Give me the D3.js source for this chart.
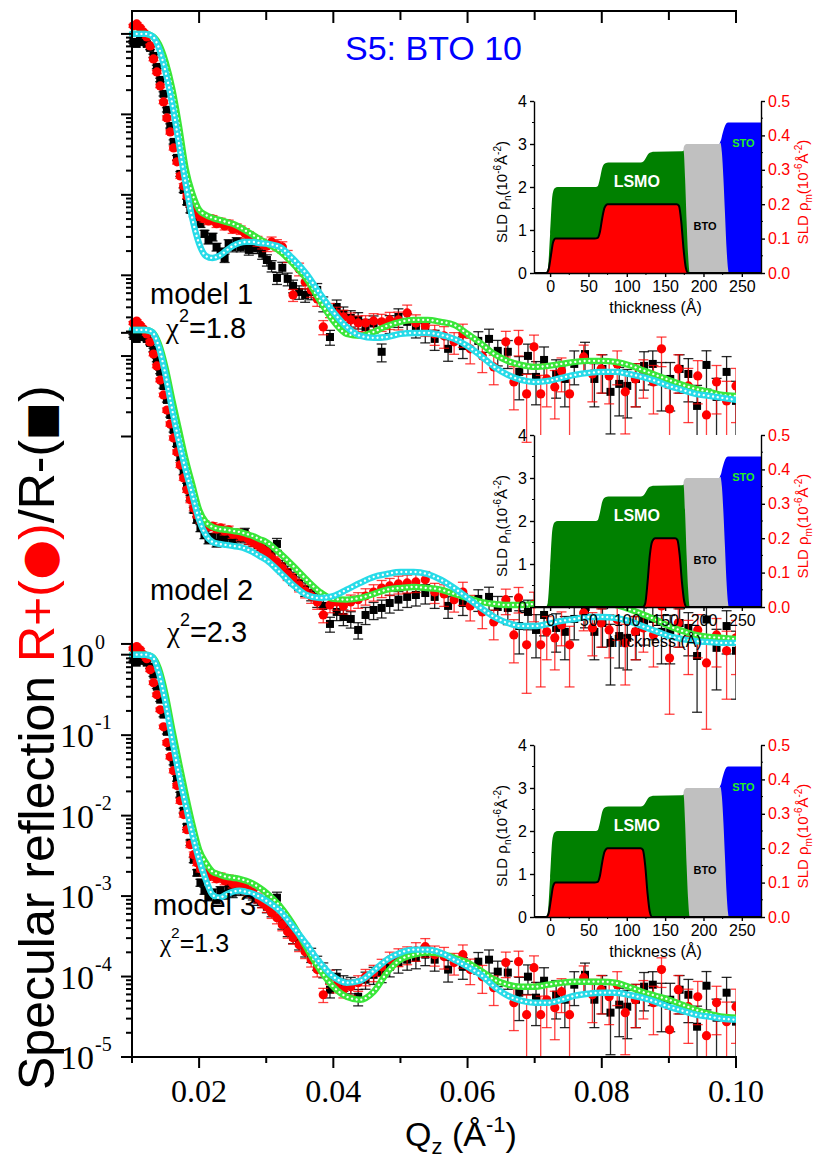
<!DOCTYPE html>
<html>
<head>
<meta charset="utf-8">
<title>S5: BTO 10</title>
<script src="https://cdn.jsdelivr.net/npm/d3@7/dist/d3.min.js"></script>
<style>
  body { margin: 0; background: #ffffff; }
  svg { display: block; }
</style>
</head>
<body>
<div id="chart"></div>
<script>
// measured Q values
var qShared = [
    0.0102, 0.0107, 0.0112, 0.0117, 0.0122, 0.0127, 0.0132, 0.0137, 0.0142, 0.0147,
    0.0152, 0.0157, 0.0162, 0.0167, 0.0172, 0.0177, 0.0182, 0.0187, 0.0192, 0.0197,
    0.0202, 0.0208, 0.0214, 0.0220, 0.0226, 0.0232, 0.0238, 0.0244, 0.0250, 0.0256,
    0.0262, 0.0268, 0.0274, 0.0280, 0.0287, 0.0294,
    0.0301, 0.0308, 0.0316, 0.0324, 0.0332, 0.0340, 0.0349, 0.0358, 0.0367, 0.0376, 0.0385, 0.0395,
    0.0405, 0.0415, 0.0426, 0.0437, 0.0448, 0.0460, 0.0472, 0.0484, 0.0497, 0.0510, 0.0523, 0.0537
];
var qPlus = qShared.concat( [
    0.0551, 0.0565, 0.0580, 0.0593, 0.0604, 0.0622, 0.0639, 0.0657, 0.0669, 0.0676,
    0.0688, 0.0699, 0.0709, 0.0718, 0.0730, 0.0740, 0.0752, 0.0773, 0.0786, 0.0799,
    0.0811, 0.0823, 0.0835, 0.0850, 0.0862, 0.0877, 0.0889, 0.0901, 0.0914, 0.0929,
    0.0943, 0.0956, 0.0971, 0.0986, 0.1000
] );
var qMinus = qShared.concat( [
    0.0551, 0.0571, 0.0593, 0.0616, 0.0632, 0.0645, 0.0660, 0.0677, 0.0690, 0.0702,
    0.0714, 0.0732, 0.0745, 0.0759, 0.0775, 0.0789, 0.0801, 0.0813, 0.0826, 0.0838,
    0.0851, 0.0863, 0.0876, 0.0889, 0.0902, 0.0916, 0.0929, 0.0942, 0.0956, 0.0971,
    0.0986, 0.1000
] );

// high-Q part of R+ and R- as read in panels 1 and 3
var rPlusHighOuter = [
    1.87e-4, 1.77e-4, 1.49e-4, 1.87e-4, 1.22e-4, 9.96e-5, 7.27e-5, 1.49e-4, 4.73e-5, 1.53e-4,
    3.36e-5, 1.29e-4, 3.36e-5, 5.15e-5, 4.10e-5, 6.48e-5, 3.36e-5, 9.68e-5, 5.94e-5, 6.86e-5,
    5.61e-5, 7.92e-5, 3.56e-5, 5.15e-5, 5.94e-5, 4.73e-5, 1.22e-4, 2.18e-5, 6.86e-5, 4.22e-5,
    5.61e-5, 1.84e-5, 4.73e-5, 2.75e-5, 4.22e-5
];
var rMinusHighOuter = [
    1.62e-4, 1.22e-4, 1.32e-4, 1.53e-4, 1.62e-4, 1.15e-4, 1.12e-4, 6.30e-5, 9.96e-5, 5.46e-5,
    8.87e-5, 5.94e-5, 5.15e-5, 7.92e-5, 1.05e-4, 5.15e-5, 6.86e-5, 3.56e-5, 4.47e-5, 4.22e-5,
    5.15e-5, 7.48e-5, 7.92e-5, 5.15e-5, 5.15e-5, 6.86e-5, 5.94e-5, 2.38e-5, 7.69e-5, 3.08e-5,
    6.30e-5, 2.75e-5
];

// panel 1 (model 1)
var rPlusOne = [
    1.26, 1.33, 1.19, 1.06, 0.918, 0.709, 0.489, 0.337, 0.226, 0.143,
    0.0904, 0.0605, 0.0383, 0.0257, 0.0172, 0.0129, 0.00970, 0.00775, 0.00650, 0.00579,
    0.00532, 0.00502, 0.00474, 0.00502, 0.00437, 0.00461, 0.00411, 0.00437, 0.00377, 0.00388,
    0.00366, 0.00336, 0.00309, 0.00283, 0.00267, 0.00247,
    0.00232, 0.00260, 0.00239, 0.00225, 0.00174, 0.000570, 0.00120, 0.000828, 0.000658, 0.000508, 0.000228, 0.000372,
    0.000331, 0.000304, 0.000279, 0.000256, 0.000256, 0.000271, 0.000264, 0.000279, 0.000279, 0.000341, 0.000256, 0.000235
].concat( rPlusHighOuter );
var rMinusOne = [
    0.796, 0.751, 0.818, 0.796, 0.751, 0.670, 0.533, 0.389, 0.268, 0.180,
    0.114, 0.0719, 0.0455, 0.0288, 0.0182, 0.0115, 0.00817, 0.00650, 0.00579, 0.00532,
    0.00437, 0.00329, 0.00275, 0.00300, 0.00225, 0.00195, 0.00164, 0.00247, 0.00225, 0.00260,
    0.00225, 0.00247, 0.00207, 0.00219, 0.00219, 0.00186,
    0.00155, 0.00131, 0.000927, 0.00124, 0.000902, 0.000738, 0.000621, 0.000570, 0.000621, 0.000658, 0.000445, 0.000171,
    0.000404, 0.000331, 0.000295, 0.000279, 0.000228, 0.000252, 0.000112, 0.000252, 0.000304, 0.000264, 0.000228, 0.000198
].concat( rMinusHighOuter );

// panel 2 (model 2)
var rPlusTwo = [
    1.22, 1.29, 1.15, 1.03, 0.892, 0.709, 0.503, 0.357, 0.239, 0.156,
    0.101, 0.0679, 0.0455, 0.0305, 0.0210, 0.0145, 0.0103, 0.00775, 0.00614, 0.00502,
    0.00437, 0.00388, 0.00356, 0.00366, 0.00336, 0.00346, 0.00318, 0.00329, 0.00292, 0.00300,
    0.00275, 0.00275, 0.00247, 0.00232, 0.00213, 0.00190,
    0.00174, 0.00147, 0.00131, 0.00110, 0.000927, 0.000804, 0.000677, 0.000570, 0.000494, 0.000416, 0.000287, 0.000382,
    0.000416, 0.000372, 0.000416, 0.000445, 0.000494, 0.000554, 0.000621, 0.000658, 0.000697, 0.000717, 0.000738, 0.000789,
    0.000554, 0.000524, 0.000445, 0.000554, 0.000372, 0.000313, 0.000235, 0.000445, 0.000162, 0.000467,
    0.000122, 0.000393, 0.000122, 0.000177, 0.000149, 0.000216, 0.000122, 0.000304, 0.000198, 0.000228,
    0.000187, 0.000252, 0.000129, 0.000177, 0.000198, 0.000162, 0.000372, 8.38e-5, 0.000228, 0.000149,
    0.000187, 7.27e-5, 0.000162, 1.03e-4, 0.000149
];
var rMinusTwo = [
    0.842, 0.773, 0.867, 0.818, 0.773, 0.689, 0.565, 0.424, 0.301, 0.201,
    0.135, 0.0878, 0.0572, 0.0383, 0.0257, 0.0172, 0.0115, 0.00817, 0.00579, 0.00437,
    0.00346, 0.00283, 0.00247, 0.00267, 0.00225, 0.00267, 0.00247, 0.00283, 0.00252, 0.00292,
    0.00260, 0.00300, 0.00252, 0.00239, 0.00213, 0.00201,
    0.00179, 0.00160, 0.00219, 0.00117, 0.000982, 0.000828, 0.000717, 0.000604, 0.000538, 0.000445, 0.000372, 0.000222,
    0.000313, 0.000271, 0.000256, 0.000187, 0.000287, 0.000331, 0.000351, 0.000404, 0.000445, 0.000481, 0.000508, 0.000538,
    0.000481, 0.000372, 0.000404, 0.000454, 0.000481, 0.000361, 0.000351, 0.000209, 0.000313, 0.000187,
    0.000287, 0.000198, 0.000177, 0.000256, 0.000331, 0.000177, 0.000228, 0.000129, 0.000157, 0.000149,
    0.000177, 0.000242, 0.000256, 0.000177, 0.000177, 0.000228, 0.000198, 8.87e-5, 0.000252, 1.12e-4,
    0.000209, 1.03e-4
];

// panel 3 (model 3)
var rPlusThree = [
    1.19, 1.26, 1.15, 1.00, 0.892, 0.651, 0.449, 0.318, 0.207, 0.127,
    0.0806, 0.0540, 0.0362, 0.0236, 0.0153, 0.0103, 0.00668, 0.00435, 0.00327, 0.00260,
    0.00219, 0.00195, 0.00174, 0.00185, 0.00164, 0.00174, 0.00155, 0.00164, 0.00143, 0.00147,
    0.00131, 0.00135, 0.00117, 0.00110, 0.000955, 0.000828,
    0.000738, 0.000621, 0.000538, 0.000441, 0.000361, 0.000304, 0.000249, 0.000204, 0.000162, 0.000122, 5.94e-5, 9.96e-5,
    7.92e-5, 6.86e-5, 7.48e-5, 8.38e-5, 9.96e-5, 1.12e-4, 1.32e-4, 1.62e-4, 1.77e-4, 1.87e-4, 2.09e-4, 2.35e-4
].concat( rPlusHighOuter );
var rMinusThree = [
    0.867, 0.796, 0.892, 0.842, 0.796, 0.709, 0.565, 0.400, 0.276, 0.180,
    0.110, 0.0719, 0.0455, 0.0288, 0.0182, 0.0115, 0.00728, 0.00461, 0.00283, 0.00195,
    0.00147, 0.00117, 0.000982, 0.00110, 0.000902, 0.00117, 0.00104, 0.00127, 0.00110, 0.00131,
    0.00117, 0.00138, 0.00110, 0.00104, 0.000902, 0.000851,
    0.000738, 0.000658, 0.000955, 0.000467, 0.000382, 0.000313, 0.000264, 0.000216, 1.87e-4, 1.49e-4, 1.22e-4, 6.86e-5,
    9.96e-5, 8.38e-5, 7.92e-5, 5.61e-5, 9.14e-5, 1.05e-4, 1.12e-4, 1.32e-4, 1.49e-4, 1.62e-4, 1.71e-4, 1.87e-4
].concat( rMinusHighOuter );

// relative errors dR/R
var rPlusErr = [
    0.04, 0.04, 0.04, 0.04, 0.04, 0.05, 0.05, 0.05, 0.05, 0.05,
    0.06, 0.06, 0.06, 0.06, 0.07, 0.07, 0.07, 0.08, 0.08, 0.08,
    0.09, 0.09, 0.10, 0.10, 0.10, 0.11, 0.11, 0.11, 0.12, 0.12,
    0.12, 0.13, 0.13, 0.13, 0.14, 0.14,
    0.15, 0.15, 0.16, 0.16, 0.17, 0.17, 0.18, 0.18, 0.19, 0.19, 0.20, 0.20,
    0.21, 0.21, 0.22, 0.22, 0.23, 0.23, 0.24, 0.24, 0.25, 0.25, 0.26, 0.26,
    0.28, 0.30, 0.30, 0.32, 0.35, 0.38, 0.40, 0.35, 0.55, 0.35,
    0.75, 0.40, 0.70, 0.55, 0.60, 0.45, 0.70, 0.40, 0.55, 0.50,
    0.55, 0.45, 0.70, 0.55, 0.50, 0.60, 0.40, 0.80, 0.50, 0.65,
    0.55, 0.85, 0.60, 0.75, 0.65
];
var rMinusErr = [
    0.04, 0.04, 0.04, 0.04, 0.05, 0.05, 0.05, 0.05, 0.05, 0.06,
    0.06, 0.06, 0.06, 0.07, 0.07, 0.07, 0.08, 0.08, 0.08, 0.09,
    0.10, 0.10, 0.11, 0.11, 0.11, 0.12, 0.12, 0.12, 0.13, 0.13,
    0.13, 0.14, 0.14, 0.14, 0.15, 0.15,
    0.16, 0.16, 0.17, 0.17, 0.18, 0.18, 0.19, 0.19, 0.20, 0.20, 0.21, 0.21,
    0.22, 0.22, 0.23, 0.23, 0.24, 0.24, 0.25, 0.25, 0.26, 0.26, 0.27, 0.27,
    0.28, 0.30, 0.30, 0.30, 0.32, 0.35, 0.38, 0.55, 0.40, 0.55,
    0.45, 0.50, 0.55, 0.45, 0.40, 0.55, 0.50, 0.70, 0.60, 0.60,
    0.55, 0.50, 0.45, 0.60, 0.60, 0.50, 0.55, 0.80, 0.50, 0.70,
    0.55, 0.75
];

// fitted curves
var qFit = [
    0.010, 0.011, 0.012, 0.013, 0.014, 0.015, 0.016, 0.017, 0.018, 0.019, 0.020,
    0.021, 0.022, 0.023, 0.024, 0.025, 0.026, 0.027, 0.028, 0.029, 0.030,
    0.032, 0.034, 0.036, 0.038, 0.040, 0.042, 0.044, 0.046, 0.048, 0.050,
    0.052, 0.054, 0.056, 0.058, 0.060, 0.062, 0.064, 0.066, 0.068, 0.070,
    0.072, 0.074, 0.076, 0.078, 0.080, 0.082, 0.084, 0.086, 0.088, 0.090,
    0.092, 0.094, 0.096, 0.098, 0.100
];
var fitOnePlus = [
    1, 1, 1, 0.944, 0.751, 0.449, 0.207, 0.0719, 0.0210, 0.0103, 0.00650,
    0.00563, 0.00517, 0.00488, 0.00461, 0.00437, 0.00399, 0.00356, 0.00318, 0.00283, 0.00252,
    0.00201, 0.00139, 0.000902, 0.000481, 0.000271, 0.000187, 0.000177, 0.000198, 0.000235, 0.000264,
    0.000279, 0.000279, 0.000264, 0.000242, 0.000187, 0.000142, 0.000105, 8.63e-5, 7.69e-5, 7.27e-5,
    7.48e-5, 7.92e-5, 8.38e-5, 8.63e-5, 8.63e-5, 8.38e-5, 7.69e-5, 6.67e-5, 5.78e-5, 5.01e-5,
    4.35e-5, 3.87e-5, 3.56e-5, 3.26e-5, 3.17e-5
];
var fitOneMinus = [
    1, 1, 1, 0.944, 0.670, 0.337, 0.135, 0.0430, 0.0137, 0.00502, 0.00247,
    0.00174, 0.00164, 0.00174, 0.00201, 0.00232, 0.00252, 0.00260, 0.00260, 0.00252, 0.00247,
    0.00225, 0.00160, 0.00104, 0.000593, 0.000351, 0.000228, 0.000177, 0.000167, 0.000171, 0.000187,
    0.000192, 0.000192, 0.000182, 0.000162, 0.000132, 9.96e-5, 7.27e-5, 5.78e-5, 5.01e-5, 4.73e-5,
    4.87e-5, 5.32e-5, 5.78e-5, 6.12e-5, 6.30e-5, 6.30e-5, 5.94e-5, 5.46e-5, 4.87e-5, 4.22e-5,
    3.76e-5, 3.36e-5, 3.17e-5, 2.99e-5, 2.83e-5
];
var fitTwoPlus = [
    1, 1, 1, 0.944, 0.670, 0.337, 0.135, 0.0572, 0.0243, 0.0118, 0.00582,
    0.00411, 0.00356, 0.00336, 0.00329, 0.00318, 0.00309, 0.00292, 0.00275, 0.00252, 0.00232,
    0.00169, 0.00117, 0.000789, 0.000554, 0.000454, 0.000445, 0.000467, 0.000524, 0.000593, 0.000621,
    0.000640, 0.000621, 0.000593, 0.000524, 0.000467, 0.000416, 0.000393, 0.000382, 0.000382, 0.000393,
    0.000404, 0.000416, 0.000416, 0.000416, 0.000404, 0.000382, 0.000341, 0.000295, 0.000252, 0.000209,
    0.000182, 0.000162, 0.000153, 0.000149, 0.000144
];
var fitTwoMinus = [
    1, 1, 1, 0.944, 0.615, 0.276, 0.101, 0.0406, 0.0182, 0.00890, 0.00437,
    0.00283, 0.00232, 0.00219, 0.00213, 0.00207, 0.00201, 0.00190, 0.00174, 0.00155, 0.00139,
    0.000982, 0.000677, 0.000508, 0.000467, 0.000494, 0.000593, 0.000717, 0.000851, 0.000927, 0.000982,
    0.000982, 0.000927, 0.000789, 0.000621, 0.000467, 0.000351, 0.000271, 0.000228, 0.000209, 0.000209,
    0.000222, 0.000242, 0.000256, 0.000271, 0.000271, 0.000264, 0.000242, 0.000209, 0.000182, 0.000157,
    0.000144, 0.000136, 0.000132, 0.000129, 0.000129
];
var fitThreePlus = [
    1, 1, 1, 0.944, 0.670, 0.318, 0.117, 0.0455, 0.0182, 0.00775, 0.00377,
    0.00260, 0.00201, 0.00186, 0.00174, 0.00169, 0.00164, 0.00155, 0.00143, 0.00127, 0.00110,
    0.000759, 0.000445, 0.000228, 1.22e-4, 7.48e-5, 5.61e-5, 5.15e-5, 6.48e-5, 1.12e-4, 1.62e-4,
    1.87e-4, 1.98e-4, 1.92e-4, 1.71e-4, 1.49e-4, 1.18e-4, 9.14e-5, 7.92e-5, 7.48e-5, 7.48e-5,
    7.92e-5, 8.38e-5, 8.63e-5, 8.63e-5, 8.63e-5, 8.38e-5, 7.48e-5, 6.48e-5, 5.78e-5, 5.15e-5,
    4.47e-5, 3.87e-5, 3.45e-5, 3.17e-5, 3.08e-5
];
var fitThreeMinus = [
    1, 1, 1, 0.944, 0.597, 0.253, 0.0878, 0.0323, 0.0137, 0.00582, 0.00283,
    0.00160, 0.00104, 0.000955, 0.00104, 0.00113, 0.00117, 0.00113, 0.00107, 0.000982, 0.000876,
    0.000658, 0.000416, 0.000252, 0.000149, 9.96e-5, 8.38e-5, 8.87e-5, 1.18e-4, 1.62e-4, 1.98e-4,
    2.16e-4, 2.16e-4, 1.98e-4, 1.62e-4, 1.32e-4, 1.05e-4, 7.48e-5, 5.78e-5, 5.01e-5, 4.73e-5,
    4.73e-5, 5.15e-5, 5.78e-5, 6.12e-5, 6.30e-5, 6.30e-5, 5.94e-5, 5.46e-5, 4.87e-5, 4.22e-5,
    3.76e-5, 3.36e-5, 3.17e-5, 2.99e-5, 2.91e-5
];

// panels
var modelNames = [ 'model 1', 'model 2', 'model 3' ];
var modelChi = [ '1.8', '2.3', '1.3' ];
var modelOffset = [ 5.19e7, 1.086e4, 1 ];

// x ticks
var xMajorTicks = [ 0.02, 0.04, 0.06, 0.08, 0.10 ];
var xMinorTicks = [ 0.01, 0.03, 0.05, 0.07, 0.09 ];

// y ticks: top major value, decades, extra minor decades, labels
var yTickGroups = [
    { top: 5.19e7, decades: 3, extra: 1, labels: false },
    { top: 5.15e3, decades: 1, extra: 0, labels: false },
    { top: 1, decades: 5, extra: 0, labels: true }
];
// long ticks where the stacked panels meet
var yJoinTicks = [ 1.0e4, 1.36 ];

// SLD profiles for the insets (thickness in A, SLD in 1e-6 A^-2)
var lsmoZ   = [ -21, -6, -3, 0, 3, 6, 10, 58, 62, 65, 68, 72, 76, 118, 122, 125, 128, 132, 136, 172, 174, 176, 178, 180, 182, 275 ];
var lsmoSld = [ 0, 0, 0.1, 0.9, 1.8, 1.97, 2.0, 2.0, 2.02, 2.2, 2.45, 2.55, 2.57, 2.57, 2.6, 2.68, 2.77, 2.81, 2.82, 2.83, 2.85, 2.2, 1.2, 0.4, 0, 0 ];
var btoZ    = [ -21, 173.5, 174, 176, 178, 220, 222, 224, 226, 228, 230, 232, 233, 275 ];
var btoSld  = [ 0, 0, 2.9, 2.98, 3.0, 3.0, 3.03, 2.8, 2.2, 1.4, 0.6, 0.1, 0, 0 ];
var stoZ    = [ -21, 220.5, 221, 223, 225, 228, 232, 275 ];
var stoSld  = [ 0, 0, 3.0, 3.1, 3.25, 3.42, 3.5, 3.5 ];

var magZ = [
    [ -21, -5, -2, 1, 4, 7, 12, 58, 62, 65, 68, 71, 75, 80, 165, 168, 171, 174, 177, 180, 275 ],
    [ -21, 121, 124, 127, 130, 133, 137, 163, 166, 169, 172, 175, 178, 275 ],
    [ -21, -5, -2, 1, 4, 7, 12, 58, 62, 65, 68, 71, 75, 80, 118, 121, 124, 127, 130, 133, 275 ]
];
var magSld = [
    [ 0, 0, 0.01, 0.05, 0.09, 0.1, 0.1, 0.1, 0.102, 0.12, 0.16, 0.19, 0.2, 0.2, 0.2, 0.195, 0.15, 0.07, 0.015, 0, 0 ],
    [ 0, 0, 0.01, 0.07, 0.15, 0.19, 0.2, 0.2, 0.195, 0.15, 0.07, 0.015, 0, 0 ],
    [ 0, 0, 0.01, 0.05, 0.09, 0.1, 0.1, 0.1, 0.102, 0.12, 0.16, 0.19, 0.2, 0.2, 0.2, 0.195, 0.15, 0.07, 0.015, 0, 0 ]
];

// namespace
var reflect = {};

reflect.sans = "'Liberation Sans', Arial, Helvetica, sans-serif";
reflect.serif = "'Liberation Serif', 'Times New Roman', serif";

// render
reflect.render = function( root ) {
    var plot = { left: 132, right: 736, top: 11, bottom: 1057 };

    var svg = d3.select( root )
                .append( 'svg' )
                .attr( 'width', 814 )
                .attr( 'height', 1157 )
                .style( 'font-family', reflect.sans );

    var x = d3.scaleLinear().domain( [ 0.01, 0.10 ] ).range( [ plot.left, plot.right ] );
    var y = d3.scaleLog().domain( [ 1e-5, 1e8 ] ).range( [ plot.bottom, plot.top ] );

    svg.append( 'defs' )
       .append( 'clipPath' )
       .attr( 'id', 'plot-clip' )
       .append( 'rect' )
       .attr( 'x', plot.left - 6 )
       .attr( 'y', plot.top )
       .attr( 'width', plot.right - plot.left + 6 )
       .attr( 'height', plot.bottom - plot.top );

    var layer = svg.append( 'g' ).attr( 'clip-path', 'url(#plot-clip)' );

    var plusData = [ rPlusOne, rPlusTwo, rPlusThree ];
    var minusData = [ rMinusOne, rMinusTwo, rMinusThree ];
    var plusFits = [ fitOnePlus, fitTwoPlus, fitThreePlus ];
    var minusFits = [ fitOneMinus, fitTwoMinus, fitThreeMinus ];

    for( var i = 0; i < modelOffset.length; i++ ) {
        reflect.drawData( layer, x, y, qMinus, minusData[ i ], rMinusErr, modelOffset[ i ], 'square', plot );
        reflect.drawData( layer, x, y, qPlus, plusData[ i ], rPlusErr, modelOffset[ i ], 'circle', plot );
    }
    for( var i = 0; i < modelOffset.length; i++ ) {
        reflect.drawFit( layer, x, y, qFit, plusFits[ i ], modelOffset[ i ], '#39e639' );
        reflect.drawFit( layer, x, y, qFit, minusFits[ i ], modelOffset[ i ], '#27dbe8' );
    }

    reflect.drawXAxis( svg, x, plot );
    reflect.drawYAxis( svg, y, plot );
    reflect.drawLabels( svg, plot );

    var insetTops = [ 101, 435, 745 ];
    for( var i = 0; i < insetTops.length; i++ ) {
        reflect.drawInset( svg, insetTops[ i ], magZ[ i ], magSld[ i ] );
    }
}

// draw data with error bars
reflect.drawData = function( layer, x, y, q, r, err, offset, shape, plot ) {
    var color = shape == 'circle' ? '#ff0000' : '#000000';
    var data = q.map( function( d, i ) {
        return { q: d, r: r[ i ] * offset, e: err[ i ] };
    });

    var g = layer.append( 'g' );
    var bars = g.selectAll( 'g.bar' )
                .data( data )
                .enter()
                .append( 'g' )
                .attr( 'stroke', color )
                .attr( 'stroke-opacity', shape == 'circle' ? 0.75 : 0.85 )
                .attr( 'stroke-width', 1.3 );

    var top = function( d ) { return y( d.r * ( 1 + d.e ) ); };
    var bottom = function( d ) {
        var low = d.r * ( 1 - d.e );
        return low > 0 ? Math.min( y( low ), plot.bottom ) : plot.bottom;
    };

    bars.append( 'line' )
        .attr( 'x1', function( d ) { return x( d.q ); } )
        .attr( 'x2', function( d ) { return x( d.q ); } )
        .attr( 'y1', top )
        .attr( 'y2', bottom );
    bars.append( 'line' )
        .attr( 'x1', function( d ) { return x( d.q ) - 5; } )
        .attr( 'x2', function( d ) { return x( d.q ) + 5; } )
        .attr( 'y1', top )
        .attr( 'y2', top );
    bars.append( 'line' )
        .attr( 'x1', function( d ) { return x( d.q ) - 5; } )
        .attr( 'x2', function( d ) { return x( d.q ) + 5; } )
        .attr( 'y1', bottom )
        .attr( 'y2', bottom );

    if( shape == 'circle' ) {
        g.selectAll( 'circle' )
         .data( data )
         .enter()
         .append( 'circle' )
         .attr( 'cx', function( d ) { return x( d.q ); } )
         .attr( 'cy', function( d ) { return y( d.r ); } )
         .attr( 'r', 4.6 )
         .attr( 'fill', color );
    }
    else {
        g.selectAll( 'rect' )
         .data( data )
         .enter()
         .append( 'rect' )
         .attr( 'x', function( d ) { return x( d.q ) - 4; } )
         .attr( 'y', function( d ) { return y( d.r ) - 4; } )
         .attr( 'width', 8 )
         .attr( 'height', 8 )
         .attr( 'fill', color );
    }
}

// draw fit as a chain of open circles
reflect.drawFit = function( layer, x, y, q, r, offset, color ) {
    var points = q.map( function( d, i ) { return [ x( d ), y( r[ i ] * offset ) ]; } );
    var line = d3.line().curve( d3.curveMonotoneX );

    layer.append( 'path' )
         .attr( 'd', line( points ) )
         .attr( 'fill', 'none' )
         .attr( 'stroke', color )
         .attr( 'stroke-width', 6.4 )
         .attr( 'stroke-linecap', 'round' );
    layer.append( 'path' )
         .attr( 'd', line( points ) )
         .attr( 'fill', 'none' )
         .attr( 'stroke', '#ffffff' )
         .attr( 'stroke-width', 2.3 )
         .attr( 'stroke-linecap', 'round' )
         .attr( 'stroke-dasharray', '0.01 4.7' );
}

// draw x axis
reflect.drawXAxis = function( svg, x, plot ) {
    var g = svg.append( 'g' ).attr( 'stroke', '#000' ).attr( 'stroke-width', 2 );

    g.append( 'line' )
     .attr( 'x1', plot.left - 1 ).attr( 'x2', plot.right + 1 )
     .attr( 'y1', plot.bottom ).attr( 'y2', plot.bottom );
    g.append( 'line' )
     .attr( 'x1', plot.left - 1 ).attr( 'x2', plot.right + 1 )
     .attr( 'y1', plot.top ).attr( 'y2', plot.top );

    xMajorTicks.concat( xMinorTicks ).forEach( function( t ) {
        var major = xMajorTicks.indexOf( t ) >= 0;
        g.append( 'line' )
         .attr( 'x1', x( t ) ).attr( 'x2', x( t ) )
         .attr( 'y1', plot.bottom ).attr( 'y2', plot.bottom + ( major ? 11 : 6 ) );
        g.append( 'line' )
         .attr( 'x1', x( t ) ).attr( 'x2', x( t ) )
         .attr( 'y1', plot.top ).attr( 'y2', plot.top + ( major ? 12 : 9 ) );
    });

    svg.append( 'g' )
       .selectAll( 'text' )
       .data( xMajorTicks )
       .enter()
       .append( 'text' )
       .attr( 'x', function( d ) { return x( d ); } )
       .attr( 'y', plot.bottom + 45 )
       .attr( 'text-anchor', 'middle' )
       .style( 'font-family', reflect.serif )
       .style( 'font-size', '32px' )
       .text( function( d ) { return d3.format( '.2f' )( d ); } );
}

// draw y axis
reflect.drawYAxis = function( svg, y, plot ) {
    var g = svg.append( 'g' ).attr( 'stroke', '#000' ).attr( 'stroke-width', 2 );

    g.append( 'line' )
     .attr( 'x1', plot.left ).attr( 'x2', plot.left )
     .attr( 'y1', plot.top - 1 ).attr( 'y2', plot.bottom + 1 );

    var labels = svg.append( 'g' ).style( 'font-family', reflect.serif );

    yTickGroups.forEach( function( group ) {
        for( var k = 0; k <= group.decades; k++ ) {
            var value = group.top / Math.pow( 10, k );
            g.append( 'line' )
             .attr( 'x1', plot.left - 11 ).attr( 'x2', plot.left )
             .attr( 'y1', y( value ) ).attr( 'y2', y( value ) );

            if( group.labels ) {
                labels.append( 'text' )
                      .attr( 'x', plot.left - 38 )
                      .attr( 'y', y( value ) + 12 )
                      .attr( 'text-anchor', 'end' )
                      .style( 'font-size', '34px' )
                      .text( '10' );
                labels.append( 'text' )
                      .attr( 'x', plot.left - 37 )
                      .attr( 'y', y( value ) - 6 )
                      .style( 'font-size', '20px' )
                      .text( k == 0 ? '0' : '-' + k );
            }
        }
        for( var k = 0; k < group.decades + group.extra; k++ ) {
            var base = group.top / Math.pow( 10, k + 1 );
            for( var m = 2; m <= 9; m++ ) {
                g.append( 'line' )
                 .attr( 'x1', plot.left - 6 ).attr( 'x2', plot.left )
                 .attr( 'y1', y( base * m ) ).attr( 'y2', y( base * m ) );
            }
        }
    });

    yJoinTicks.forEach( function( value ) {
        g.append( 'line' )
         .attr( 'x1', plot.left - 11 ).attr( 'x2', plot.left )
         .attr( 'y1', y( value ) ).attr( 'y2', y( value ) );
    });
}

// draw labels
reflect.drawLabels = function( svg, plot ) {
    // title
    svg.append( 'text' )
       .attr( 'x', 345 )
       .attr( 'y', 60 )
       .attr( 'fill', '#0000ff' )
       .style( 'font-size', '34px' )
       .text( 'S5: BTO 10' );

    // y axis title
    var symbol = "'DejaVu Sans', sans-serif";
    var yTitle = svg.append( 'text' )
                    .attr( 'transform', 'translate(54,1090) rotate(-90)' )
                    .style( 'font-size', '50px' );
    yTitle.append( 'tspan' ).text( 'Specular reflection ' );
    yTitle.append( 'tspan' ).attr( 'fill', '#ff0000' ).text( 'R+(' );
    yTitle.append( 'tspan' ).attr( 'fill', '#ff0000' ).style( 'font-family', symbol ).style( 'font-size', '46px' ).text( '\u25CF' );
    yTitle.append( 'tspan' ).attr( 'fill', '#ff0000' ).text( ')' );
    yTitle.append( 'tspan' ).text( '/R-(' );
    yTitle.append( 'tspan' ).style( 'font-family', symbol ).style( 'font-size', '40px' ).text( '\u25A0' );
    yTitle.append( 'tspan' ).text( ')' );

    // x axis title
    var xTitle = svg.append( 'text' )
                    .attr( 'x', 405 )
                    .attr( 'y', 1146 )
                    .style( 'font-size', '34px' );
    xTitle.append( 'tspan' ).text( 'Q' );
    xTitle.append( 'tspan' ).attr( 'dy', 8 ).style( 'font-size', '22px' ).text( 'z' );
    xTitle.append( 'tspan' ).attr( 'dy', -8 ).text( ' (\u00C5' );
    xTitle.append( 'tspan' ).attr( 'dy', -14 ).style( 'font-size', '22px' ).text( '-1' );
    xTitle.append( 'tspan' ).attr( 'dy', 14 ).text( ')' );

    // model annotations
    var modelX = [ 150, 150, 153 ];
    var modelY = [ 304, 600, 915 ];
    var chiX = [ 166, 167, 160 ];
    var chiY = [ 338, 642, 952 ];
    var chiSize = [ 29, 29, 25 ];
    for( var i = 0; i < modelNames.length; i++ ) {
        svg.append( 'text' )
           .attr( 'x', modelX[ i ] )
           .attr( 'y', modelY[ i ] )
           .style( 'font-size', '29px' )
           .text( modelNames[ i ] );
        var chi = svg.append( 'text' )
                     .attr( 'x', chiX[ i ] )
                     .attr( 'y', chiY[ i ] )
                     .style( 'font-size', chiSize[ i ] + 'px' );
        chi.append( 'tspan' ).style( 'font-family', reflect.serif ).text( '\u03C7' );
        chi.append( 'tspan' ).attr( 'dy', -chiSize[ i ] * 0.55 ).style( 'font-size', ( chiSize[ i ] * 0.62 ) + 'px' ).text( '2' );
        chi.append( 'tspan' ).attr( 'dy', chiSize[ i ] * 0.55 ).text( '=' + modelChi[ i ] );
    }
}

// draw inset with the SLD profile
reflect.drawInset = function( svg, top, mz, msld ) {
    var box = { left: 534, right: 761, top: top, bottom: top + 172 };
    var x = d3.scaleLinear().domain( [ -21, 275 ] ).range( [ box.left, box.right ] );
    var yn = d3.scaleLinear().domain( [ 0, 4 ] ).range( [ box.bottom, box.top ] );
    var ym = d3.scaleLinear().domain( [ 0, 0.5 ] ).range( [ box.bottom, box.top ] );

    var g = svg.append( 'g' );

    g.append( 'rect' )
     .attr( 'x', box.left )
     .attr( 'y', box.top )
     .attr( 'width', box.right - box.left )
     .attr( 'height', box.bottom - box.top )
     .attr( 'fill', '#ffffff' );

    var area = function( z, v, scale ) {
        var points = z.map( function( d, i ) { return [ x( d ), scale( v[ i ] ) ]; } );
        return d3.area()
                 .x( function( d ) { return d[ 0 ]; } )
                 .y0( box.bottom )
                 .y1( function( d ) { return d[ 1 ]; } )
                 .curve( d3.curveMonotoneX )( points );
    };

    g.append( 'path' ).attr( 'd', area( stoZ, stoSld, yn ) ).attr( 'fill', '#0000ff' );
    g.append( 'path' ).attr( 'd', area( btoZ, btoSld, yn ) ).attr( 'fill', '#c0c0c0' );
    g.append( 'path' ).attr( 'd', area( lsmoZ, lsmoSld, yn ) ).attr( 'fill', '#008000' );
    g.append( 'path' ).attr( 'd', area( mz, msld, ym ) ).attr( 'fill', '#ff0000' );

    var magPoints = mz.map( function( d, i ) { return [ x( d ), ym( msld[ i ] ) ]; } );
    g.append( 'path' )
     .attr( 'd', d3.line().curve( d3.curveMonotoneX )( magPoints ) )
     .attr( 'fill', 'none' )
     .attr( 'stroke', '#000' )
     .attr( 'stroke-width', 2 );

    // layer names
    g.append( 'text' )
     .attr( 'x', x( 113 ) ).attr( 'y', yn( 2.0 ) )
     .attr( 'text-anchor', 'middle' )
     .attr( 'fill', '#ffffff' )
     .style( 'font-size', '16px' ).style( 'font-weight', 'bold' )
     .text( 'LSMO' );
    g.append( 'text' )
     .attr( 'x', x( 202 ) ).attr( 'y', yn( 1.0 ) )
     .attr( 'text-anchor', 'middle' )
     .attr( 'fill', '#000' )
     .style( 'font-size', '11px' ).style( 'font-weight', 'bold' )
     .text( 'BTO' );
    g.append( 'text' )
     .attr( 'x', x( 252 ) ).attr( 'y', yn( 2.93 ) )
     .attr( 'text-anchor', 'middle' )
     .attr( 'fill', '#22ee22' )
     .style( 'font-size', '11px' ).style( 'font-weight', 'bold' )
     .text( 'STO' );

    // axes
    var axisLeft = d3.axisLeft( yn ).tickValues( [ 0, 1, 2, 3, 4 ] ).tickFormat( d3.format( 'd' ) ).tickSize( 4 ).tickSizeOuter( 0 ).tickPadding( 3 );
    var axisRight = d3.axisRight( ym ).tickValues( [ 0, 0.1, 0.2, 0.3, 0.4, 0.5 ] ).tickFormat( d3.format( '.1f' ) ).tickSize( 4 ).tickSizeOuter( 0 ).tickPadding( 3 );
    var axisBottom = d3.axisBottom( x ).tickValues( [ 0, 50, 100, 150, 200, 250 ] ).tickFormat( d3.format( 'd' ) ).tickSize( 4 ).tickSizeOuter( 0 ).tickPadding( 4 );

    var left = g.append( 'g' ).attr( 'transform', 'translate(' + box.left + ',0)' ).call( axisLeft );
    var right = g.append( 'g' ).attr( 'transform', 'translate(' + box.right + ',0)' ).call( axisRight );
    var bottom = g.append( 'g' ).attr( 'transform', 'translate(0,' + box.bottom + ')' ).call( axisBottom );

    [ left, right, bottom ].forEach( function( a ) {
        a.selectAll( 'path, line' ).attr( 'stroke', '#000' ).attr( 'stroke-width', 1.4 );
        a.selectAll( 'text' ).style( 'font-family', reflect.sans ).style( 'font-size', '16px' ).attr( 'fill', '#000' );
    });
    right.selectAll( 'text' ).attr( 'fill', '#ff0000' );

    // minor ticks
    [ 0.5, 1.5, 2.5, 3.5 ].forEach( function( t ) {
        g.append( 'line' ).attr( 'x1', box.left - 2 ).attr( 'x2', box.left )
         .attr( 'y1', yn( t ) ).attr( 'y2', yn( t ) ).attr( 'stroke', '#000' );
    });
    [ 0.05, 0.15, 0.25, 0.35, 0.45 ].forEach( function( t ) {
        g.append( 'line' ).attr( 'x1', box.right ).attr( 'x2', box.right + 2 )
         .attr( 'y1', ym( t ) ).attr( 'y2', ym( t ) ).attr( 'stroke', '#000' );
    });
    [ 25, 75, 125, 175, 225 ].forEach( function( t ) {
        g.append( 'line' ).attr( 'x1', x( t ) ).attr( 'x2', x( t ) )
         .attr( 'y1', box.bottom ).attr( 'y2', box.bottom + 2 ).attr( 'stroke', '#000' );
    });

    // axis titles
    g.append( 'text' )
     .attr( 'x', ( box.left + box.right ) / 2 + 8 )
     .attr( 'y', box.bottom + 40 )
     .attr( 'text-anchor', 'middle' )
     .style( 'font-size', '16px' )
     .text( 'thickness (\u00C5)' );

    var sld = function( cx, color, sub ) {
        var t = g.append( 'text' )
                 .attr( 'transform', 'translate(' + cx + ',' + ( ( box.top + box.bottom ) / 2 + 5 ) + ') rotate(-90)' )
                 .attr( 'text-anchor', 'middle' )
                 .attr( 'fill', color )
                 .style( 'font-size', '15px' );
        t.append( 'tspan' ).text( 'SLD \u03C1' );
        t.append( 'tspan' ).attr( 'dy', 4 ).style( 'font-size', '10px' ).text( sub );
        t.append( 'tspan' ).attr( 'dy', -4 ).text( '(10' );
        t.append( 'tspan' ).attr( 'dy', -6 ).style( 'font-size', '10px' ).text( '-6' );
        t.append( 'tspan' ).attr( 'dy', 6 ).text( '\u00C5' );
        t.append( 'tspan' ).attr( 'dy', -6 ).style( 'font-size', '10px' ).text( '-2' );
        t.append( 'tspan' ).attr( 'dy', 6 ).text( ')' );
    };
    sld( box.left - 27, '#000', 'n' );
    sld( box.right + 47, '#ff0000', 'm' );
}

reflect.render( '#chart' );
</script>
</body>
</html>
